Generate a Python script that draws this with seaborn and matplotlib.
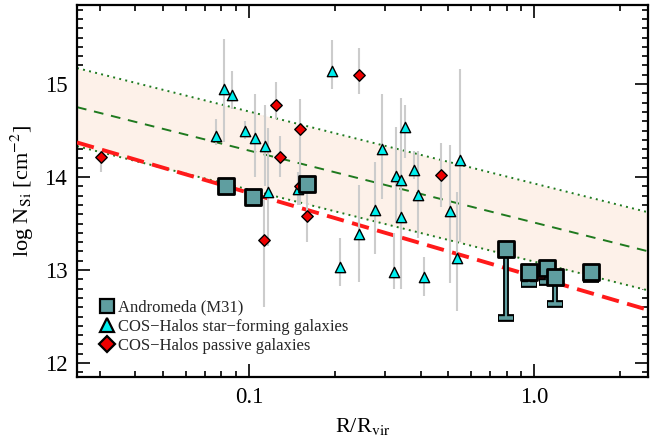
import numpy as np
import pandas as pd
import matplotlib
matplotlib.use("Agg")
import matplotlib.pyplot as plt
import seaborn as sns
from matplotlib.lines import Line2D
from matplotlib.ticker import FixedLocator, FixedFormatter, MultipleLocator, LogLocator, NullFormatter

# Andromeda (M31) Si column densities vs impact parameter
m31_r = [0.083, 0.1035, 0.160, 0.796, 0.955, 1.107, 1.18, 1.58]
m31_n = [13.90, 13.79, 13.92, 13.23, 12.98, 13.02, 12.93, 12.98]
m31_err_lo = [0.0, 0.0, 0.0, 0.75, 0.13, 0.15, 0.29, 0.08]

# COS-Halos star-forming galaxies (value, lower and upper end of range)
sf_r = [0.0818, 0.0874, 0.0764, 0.0966, 0.105, 0.1135, 0.117, 0.148, 0.196,
        0.243, 0.209, 0.277, 0.293, 0.351, 0.328, 0.342, 0.342, 0.322,
        0.380, 0.391, 0.410, 0.507, 0.550, 0.535]
sf_n = [14.95, 14.88, 14.44, 14.49, 14.42, 14.33, 13.84, 13.87, 15.14,
        13.39, 13.03, 13.65, 14.30, 14.54, 14.01, 13.97, 13.57, 12.98,
        14.08, 13.81, 12.92, 13.63, 14.18, 13.13]
sf_lo = [14.38, 14.73, 14.34, 14.41, 14.00, 13.90, 13.26, 13.70, 14.95,
         12.87, 12.83, 13.17, 13.76, 14.20, 13.52, 13.45, 12.80, 12.80,
         13.98, 13.35, 12.72, 12.86, 13.30, 12.56]
sf_hi = [15.48, 15.14, 14.62, 14.60, 14.89, 14.77, 14.53, 14.05, 15.47,
         13.91, 13.35, 14.16, 14.89, 14.77, 14.54, 14.85, 13.95, 13.40,
         14.28, 14.28, 13.14, 14.34, 15.16, 13.84]

# COS-Halos passive galaxies
pa_r = [0.0303, 0.113, 0.129, 0.124, 0.151, 0.151, 0.160, 0.243, 0.469]
pa_n = [14.22, 13.32, 14.22, 14.77, 14.52, 13.90, 13.58, 15.10, 14.02]
pa_lo = [14.05, 12.60, 14.00, 14.62, 13.85, 13.70, 13.30, 14.89, 13.68]
pa_hi = [14.28, 13.75, 14.44, 15.02, 14.84, 14.05, 13.84, 15.39, 14.37]

# Fitted relations: log N = intercept + slope * log10(R/Rvir)
cos_fit = {"intercept": 13.51, "slope": -0.775, "scatter": 0.42}
m31_fit = {"intercept": 12.93, "slope": -0.90}

x_range = (0.025, 2.5)
y_range = (11.85, 15.85)

sns.set_theme(style="ticks")
plt.rcParams["font.family"] = ["Liberation Serif", "DejaVu Serif"]
plt.rcParams["mathtext.fontset"] = "stix"

fig = plt.figure(figsize=(6.62, 4.41), dpi=100)
ax = fig.add_axes([0.1163, 0.1451, 0.8626, 0.8436])

xx = np.logspace(np.log10(x_range[0]), np.log10(x_range[1]), 100)
cos_mid = cos_fit["intercept"] + cos_fit["slope"] * np.log10(xx)
m31_line = m31_fit["intercept"] + m31_fit["slope"] * np.log10(xx)
fits = pd.DataFrame({"r": xx, "mid": cos_mid,
                     "up": cos_mid + cos_fit["scatter"],
                     "down": cos_mid - cos_fit["scatter"],
                     "m31": m31_line})

ax.fill_between(fits["r"], fits["down"], fits["up"], color="#fdf1e9", lw=0, zorder=1)
sns.lineplot(data=fits, x="r", y="up", ax=ax, color="#1f7a1f", lw=1.4,
             linestyle=(0, (1, 2.2)), zorder=2)
sns.lineplot(data=fits, x="r", y="down", ax=ax, color="#1f7a1f", lw=1.4,
             linestyle=(0, (1, 2.2)), zorder=2)
sns.lineplot(data=fits, x="r", y="mid", ax=ax, color="#1f7a1f", lw=1.4,
             linestyle=(0, (5, 4)), zorder=2)
sns.lineplot(data=fits, x="r", y="m31", ax=ax, color="#ff1a1a", lw=2.8,
             linestyle=(0, (4.5, 2.2)), zorder=3)

sf = pd.DataFrame({"r": sf_r, "n": sf_n, "lo": sf_lo, "hi": sf_hi})
pa = pd.DataFrame({"r": pa_r, "n": pa_n, "lo": pa_lo, "hi": pa_hi})
m31 = pd.DataFrame({"r": m31_r, "n": m31_n, "elo": m31_err_lo})

# gray ranges behind the COS-Halos markers
for d in (sf, pa):
    ax.vlines(d["r"], d["lo"], d["hi"], color="#cccccc", lw=1.5, zorder=4)

sns.scatterplot(data=sf, x="r", y="n", ax=ax, marker="^", s=55, color="#00eeee",
                edgecolor="black", linewidth=1.0, zorder=5)
sns.scatterplot(data=pa, x="r", y="n", ax=ax, marker="D", s=34, color="#ee0000",
                edgecolor="black", linewidth=1.0, zorder=5)

# M31 lower error bars: dark outline, then teal core
yerr = [m31["elo"], np.zeros(len(m31))]
ax.errorbar(m31["r"], m31["n"], yerr=yerr, fmt="none", ecolor="black",
            elinewidth=4.2, capsize=6.0, capthick=5.6, zorder=6)
ax.errorbar(m31["r"], m31["n"], yerr=yerr, fmt="none", ecolor="#5f9ea0",
            elinewidth=1.6, capsize=4.8, capthick=2.6, zorder=7)
sns.scatterplot(data=m31, x="r", y="n", ax=ax, marker="s", s=140, color="#5f9ea0",
                edgecolor="black", linewidth=2.0, zorder=8)

ax.set_xscale("log")
ax.set_xlim(*x_range)
ax.set_ylim(*y_range)

ax.xaxis.set_major_locator(FixedLocator([0.1, 1.0]))
ax.xaxis.set_major_formatter(FixedFormatter(["0.1", "1.0"]))
ax.xaxis.set_minor_locator(LogLocator(base=10, subs=np.arange(2, 10)))
ax.xaxis.set_minor_formatter(NullFormatter())
ax.yaxis.set_major_locator(FixedLocator([12, 13, 14, 15]))
ax.yaxis.set_minor_locator(MultipleLocator(0.1))

ax.tick_params(which="both", direction="in", top=True, right=True, width=1.2,
               color="black", labelsize=16.5, labelcolor="black")
ax.tick_params(which="major", length=9.5, pad=7)
ax.tick_params(which="minor", length=4.5)
for sp in ax.spines.values():
    sp.set_linewidth(1.6)
    sp.set_color("black")

ax.set_xlabel(r"R/R$_{\rm vir}$", fontsize=16, color="black", labelpad=6)
ax.set_ylabel(r"log N$_{\rm Si}$ [cm$^{-2}$]", fontsize=16, color="black", labelpad=6)

handles = [
    Line2D([], [], marker="s", ls="none", ms=10, mfc="#5f9ea0", mec="black", mew=1.6),
    Line2D([], [], marker="^", ls="none", ms=10, mfc="#00eeee", mec="black", mew=1.6),
    Line2D([], [], marker="D", ls="none", ms=8, mfc="#ee0000", mec="black", mew=1.6),
]
labels = ["Andromeda (M31)", "COS\u2212Halos star\u2212forming galaxies",
          "COS\u2212Halos passive galaxies"]
ax.legend(handles, labels, loc="lower left", bbox_to_anchor=(0.02, 0.03),
          frameon=False, fontsize=12, handlelength=0.8, handletextpad=0.3,
          labelspacing=0.2, borderpad=0.2)

fig.savefig("out.png", dpi=100)
